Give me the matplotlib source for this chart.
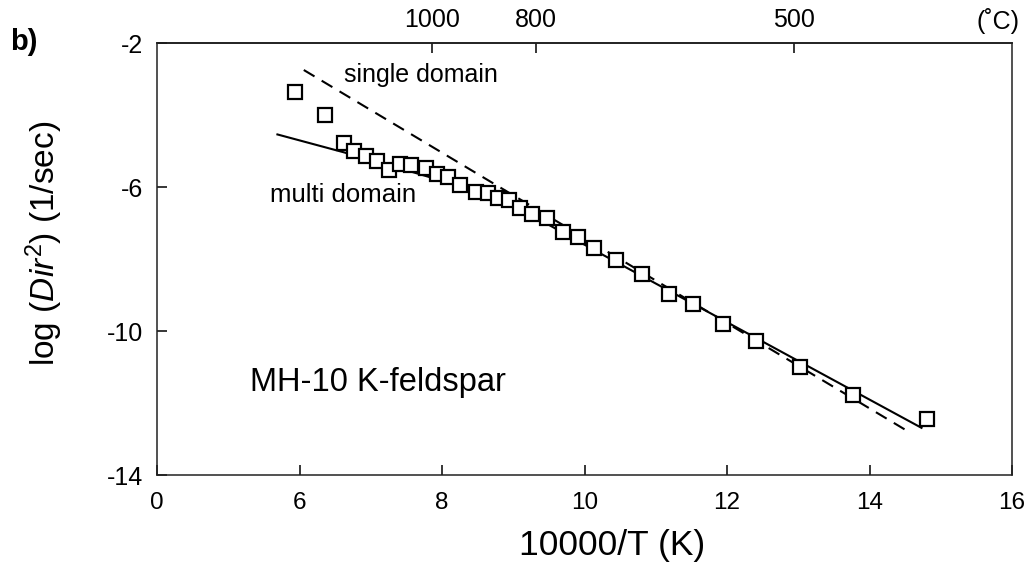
import matplotlib
matplotlib.use("Agg")
import matplotlib.pyplot as plt

plt.rcParams['font.family'] = ['Liberation Sans', 'DejaVu Sans']
plt.rcParams['mathtext.fontset'] = 'custom'
plt.rcParams['mathtext.rm'] = 'Liberation Sans'
plt.rcParams['mathtext.it'] = 'Liberation Sans:italic'

# Step-heating diffusion data, 10000/T (K) and log(D/r^2) (1/sec)
inv_T = [5.94, 6.36, 6.62, 6.77, 6.93, 7.09, 7.25, 7.41, 7.57, 7.77, 7.93,
         8.08, 8.25, 8.48, 8.64, 8.79, 8.94, 9.09, 9.26, 9.47, 9.70, 9.91,
         10.14, 10.44, 10.80, 11.18, 11.52, 11.95, 12.40, 13.03, 13.77, 14.80]
log_D = [-3.37, -4.01, -4.78, -5.01, -5.13, -5.29, -5.54, -5.37, -5.40, -5.48,
         -5.65, -5.73, -5.94, -6.14, -6.18, -6.30, -6.35, -6.58, -6.75, -6.86,
         -7.24, -7.38, -7.69, -8.03, -8.43, -8.98, -9.26, -9.81, -10.28,
         -11.01, -11.78, -12.45]

# Multi-domain model curve
mdd_x = [5.69, 6.61, 7.39, 8.09, 8.78, 9.48, 10.18, 14.73]
mdd_y = [-4.54, -5.03, -5.47, -5.88, -6.33, -7.03, -7.80, -12.69]

# Single-domain Arrhenius line
sd_x = [6.06, 14.55]
sd_y = [-2.75, -12.80]

# Axis ticks
temps_C = [1000, 800, 500]
x_ticks = [4, 6, 8, 10, 12, 14, 16]
x_labels = ['0', '6', '8', '10', '12', '14', '16']
y_ticks = [-14, -10, -6, -2]

W, H = 1026, 564
fig = plt.figure(figsize=(W / 100, H / 100), dpi=100)
ax = fig.add_axes([157 / W, 1 - 475 / H, (1012 - 157) / W, (475 - 43) / H])

ax.plot(sd_x, sd_y, color='black', lw=1.5, dashes=(6, 4), zorder=2)
ax.plot(mdd_x, mdd_y, color='black', lw=1.5, zorder=2)
ax.plot(inv_T, log_D, linestyle='none', marker='s', markersize=9.8,
        markerfacecolor='white', markeredgecolor='black', markeredgewidth=1.6,
        zorder=3)

ax.set_xlim(4, 16)
ax.set_ylim(-14, -2)
ax.set_xticks(x_ticks)
ax.set_xticklabels(x_labels)
ax.set_yticks(y_ticks)
ax.set_yticklabels([str(v) for v in y_ticks])

for s in ax.spines.values():
    s.set_linewidth(1.1)
    s.set_color('#222222')

ax.tick_params(axis='x', direction='in', length=7, width=1.1, labelsize=17.5, pad=12)
ax.tick_params(axis='y', direction='in', length=7, width=1.1, labelsize=18, pad=10)

# Temperature scale along the top
top = ax.secondary_xaxis('top')
top.set_xticks([10000 / (t + 273.15) for t in temps_C])
top.set_xticklabels([str(t) for t in temps_C])
top.tick_params(direction='in', length=7, width=1.1, labelsize=18, pad=8)
top.spines['top'].set_linewidth(1.1)

ax.set_xlabel('10000/T (K)', fontsize=25.5)
ax.xaxis.label.set_verticalalignment('baseline')
ax.xaxis.set_label_coords((612 - 157) / 855, (475 - 555) / 432)
ax.set_ylabel(r'log ($\mathit{Dir}^{2}$) (1/sec)', fontsize=24)
ax.yaxis.set_label_coords((65 - 157) / 855, 0.536)

ax.text(6.62, -2.89, 'single domain', fontsize=18, ha='left', va='center')
ax.text(5.58, -6.22, 'multi domain', fontsize=18.5, ha='left', va='center')
ax.text(5.30, -11.42, 'MH-10 K-feldspar', fontsize=23.5, ha='left', va='center')

fig.text(10 / W, 1 - 42 / H, 'b)', fontsize=21, fontweight='bold', ha='left', va='center')
fig.text(998 / W, 1 - 21 / H, '(˚C)', fontsize=18, ha='center', va='center')

fig.savefig('out.png', dpi=100)
